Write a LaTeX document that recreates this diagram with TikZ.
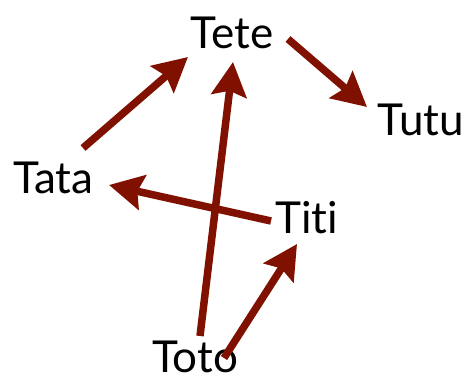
\documentclass[tikz,border=0pt]{standalone}
\usepackage{fontspec}
\setmainfont{Lato}[Ligatures={NoCommon,NoRare}]
\usetikzlibrary{arrows.meta}
\definecolor{arrred}{RGB}{128,17,0}
\tikzset{
  word/.style={anchor=base, inner sep=0pt, font=\fontsize{44}{50}\selectfont},
  arr/.style={draw=arrred, line width=7.5pt, -{Stealth[length=34pt, width=35pt, inset=5pt]}}
}
\begin{document}
\begin{tikzpicture}[x=1pt, y=-1pt]
\useasboundingbox (0,0) rectangle (466,378);
\node[word] (tete) at (232,48) {Tete};
\node[word] (tutu) at (421,135) {Tutu};
\node[word] (tata) at (53.5,193) {Tata};
\node[word] (titi) at (306.5,233) {Titi};
\node[word] (toto) at (195,372) {Toto};
\draw[arr] ([shift={(29.5,-45)}]tata.base) -- ([shift={(-44,9)}]tete.base);
\draw[arr] ([shift={(56,-9)}]tete.base) -- ([shift={(-54,-28)}]tutu.base);
\draw[arr] ([shift={(-35.5,-12)}]titi.base) -- ([shift={(55.5,-8)}]tata.base);
\draw[arr] ([shift={(5,-36)}]toto.base) -- ([shift={(1,14)}]tete.base);
\draw[arr] ([shift={(29,-14)}]toto.base) -- ([shift={(-9.5,11)}]titi.base);
\end{tikzpicture}
\end{document}
